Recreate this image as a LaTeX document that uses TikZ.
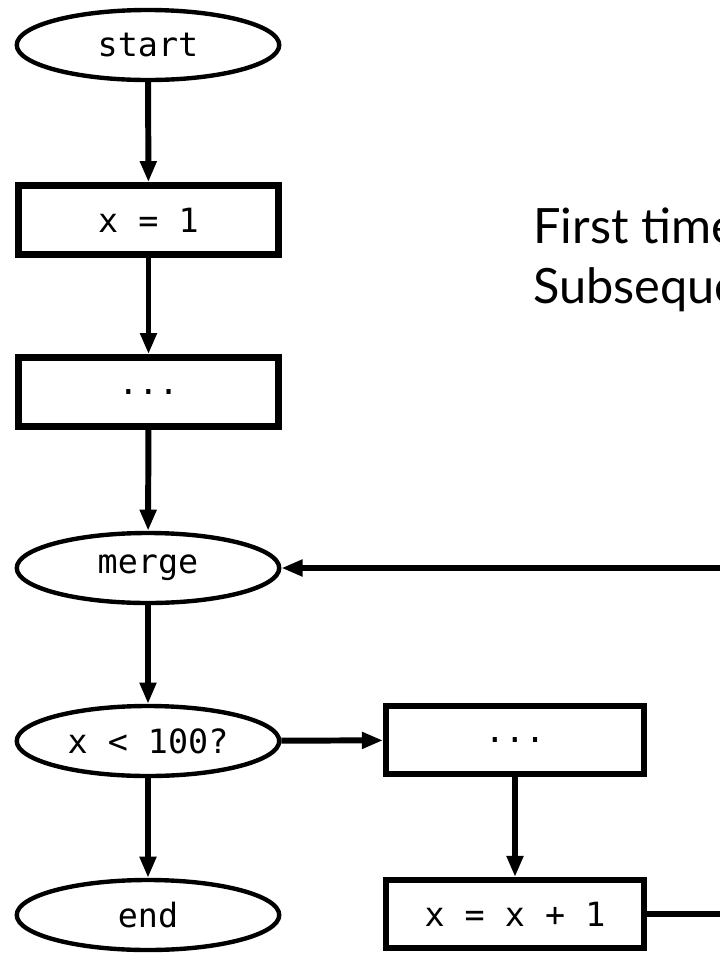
\documentclass[tikz,border=0pt]{standalone}
\usepackage{fontspec}
\setmonofont{DejaVu Sans Mono}
\newfontfamily\notefont{Lato}
\usepackage{tikz}
\usetikzlibrary{shapes.geometric,arrows.meta}

\begin{document}
\begin{tikzpicture}[
    term/.style={draw, ellipse, line width=2.5pt, minimum width=5.25cm,
                 minimum height=1.4cm, inner sep=0pt,
                 font=\fontsize{19}{22}\selectfont\ttfamily},
    stmt/.style={draw, rectangle, line width=3.8pt, minimum width=5.2cm,
                 minimum height=1.38cm, inner sep=0pt,
                 font=\fontsize{19}{22}\selectfont\ttfamily},
    heavy/.style={line width=3.4pt, -{Triangle[length=12pt,width=9pt]}},
    light/.style={line width=2.9pt, -{Triangle[length=12pt,width=9pt]}}
  ]
    \useasboundingbox (0,0) rectangle (14.4,-19.1);
    \clip (0,0) rectangle (14.4,-19.1);

    \node[term](st)  at (2.96,-0.90)  {start};
    \node[stmt](x1)  at (2.97,-4.40)  {x = 1};
    \node[stmt](dd)  at (2.97,-7.84)  {...};
    \node[term](mg)  at (2.96,-11.36) {merge};
    \node[term](tst) at (2.96,-14.82) {x < 100?};
    \node[term](en)  at (2.96,-18.30) {end};
    \node[stmt, line width=3.4pt, minimum width=5.16cm, minimum height=1.36cm]
        (bd)  at (10.30,-14.80) {...};
    \node[stmt, line width=3.4pt, minimum width=5.16cm, minimum height=1.36cm]
        (inc) at (10.30,-18.28) {x = x + 1};

    \node[anchor=base west, align=left, inner sep=0pt,
          font=\fontsize{27.7}{34}\selectfont\notefont](nt)
        at (10.66,-6.06) {First time\\Subseque};

    \draw[heavy] (st) edge (x1)
                 (x1) edge (dd)
                 (dd) edge (mg);
    \draw[light] (mg) edge (tst)
                 (tst) edge (en);
    \draw[heavy] (tst) edge (bd)
                 (bd) edge (inc);
    \draw[heavy] (inc.east) -- ++(2,0) |- (mg.east);
  \end{tikzpicture}
\end{document}
